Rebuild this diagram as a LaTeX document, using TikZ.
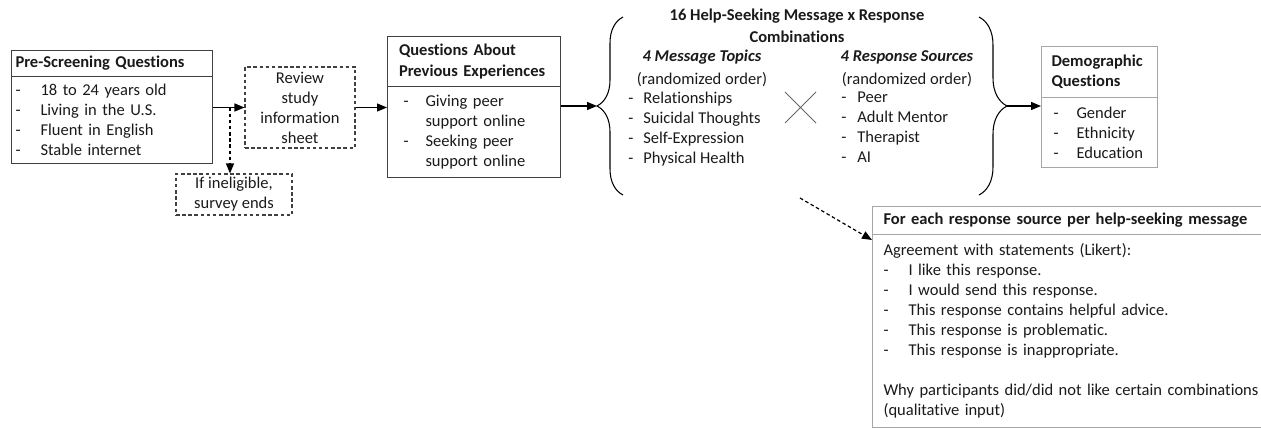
\documentclass[tikz,border=0pt]{standalone}
\usepackage{fontspec}
\setmainfont{Carlito}[Ligatures=NoCommon]
\usetikzlibrary{arrows.meta}
\usetikzlibrary{decorations.pathreplacing}
\definecolor{boxdark}{HTML}{404040}
\definecolor{boxlight}{HTML}{A6A6A6}
\definecolor{inktext}{HTML}{1A1A1A}
\newcommand{\dashitem}[2][0.5cm]{\makebox[#1][l]{-}#2}
\AtBeginDocument{\fontsize{9.4}{11.4}\selectfont}

\tikzset{
  listbox/.style={draw=boxdark, line width=0.6pt, anchor=north west, inner ysep=0pt, align=left, text=inktext},
  headbox/.style={listbox, font=\bfseries},
  dashbox/.style={draw=boxdark, line width=0.6pt, dash pattern=on 2pt off 1.5pt, align=center, inner sep=0pt, text=inktext},
  arr/.style={line width=0.7pt, -{Triangle[length=0.2cm, width=0.16cm]}},
  dasharr/.style={arr, dash pattern=on 2pt off 1.5pt}
}

\begin{document}
\begin{tikzpicture}[x=0.02cm, y=-0.02cm]
   \useasboundingbox (0,0) rectangle (1261,428);
   % left column
   \node[headbox, text width=3.86cm, inner xsep=0.08cm, minimum height=0.52cm] (prehead) at (11,50) {Pre-Screening Questions};
   \node[listbox, text width=3.86cm, inner xsep=0.08cm, minimum height=1.74cm] (prebody) at (11,76)
      {\dashitem{18 to 24 years old}\\ \dashitem{Living in the U.S.}\\ \dashitem{Fluent in English}\\ \dashitem{Stable internet}};
   \node[dashbox, minimum width=2.2cm, minimum height=1.62cm] (review) at (300,107.5) {Review\\study\\information\\sheet};
   \node[dashbox, minimum width=2.32cm, minimum height=0.82cm] (inelig) at (234,194.5) {If ineligible,\\survey ends};
   \node[headbox, text width=3.0cm, inner xsep=0.23cm, minimum height=1.0cm] (quehead) at (387,36) {Questions About\\Previous Experiences};
   \node[listbox, text width=2.82cm, inner xsep=0.32cm, minimum height=1.82cm] (quebody) at (387,86)
      {\dashitem[0.44cm]{Giving peer}\\ \hspace*{0.44cm}support online\\ \dashitem[0.44cm]{Seeking peer}\\ \hspace*{0.44cm}support online};

   % combinations
   \node[font=\bfseries, align=center, text=inktext] (combtitle) at (797,26) {16 Help-Seeking Message x Response\\[1pt]Combinations};
   \node[align=center, text=inktext, inner sep=0pt] (msghead) at (702,68.5) {\textbf{\textit{4 Message Topics}}\\[1.7pt](randomized order)};
   \node[align=center, text=inktext, inner sep=0pt] (srchead) at (907,68.5) {\textbf{\textit{4 Response Sources}}\\[1.7pt](randomized order)};
   \node[align=left, text=inktext, inner sep=0pt, anchor=west] (msglist) at (628,129)
      {\dashitem[0.3cm]{Relationships}\\ \dashitem[0.3cm]{Suicidal Thoughts}\\ \dashitem[0.3cm]{Self-Expression}\\ \dashitem[0.3cm]{Physical Health}};
   \node[align=left, text=inktext, inner sep=0pt, anchor=west] (srclist) at (841,127)
      {\dashitem[0.32cm]{Peer}\\ \dashitem[0.32cm]{Adult Mentor}\\ \dashitem[0.32cm]{Therapist}\\ \dashitem[0.32cm]{AI}};
   \draw[boxdark!80, line width=0.5pt] (785,92) -- (816,123) (785,123) -- (816,92);
   \draw[line width=0.6pt, decorate, decoration={brace, amplitude=0.52cm}] (623,195) -- (623,17);
   \draw[line width=0.6pt, decorate, decoration={brace, amplitude=0.56cm}] (979,17) -- (979,195);
   \coordinate (lbtip) at (597,106);
   \coordinate (rbtip) at (1007,106);

   % right column
   \node[headbox, draw=boxlight, text width=1.92cm, inner xsep=0.2cm, minimum height=1.02cm] (demhead) at (1041,46) {Demographic\\Questions};
   \node[listbox, draw=boxlight, text width=1.84cm, inner xsep=0.24cm, minimum height=1.4cm] (dembody) at (1041,97)
      {\dashitem[0.46cm]{Gender}\\ \dashitem[0.46cm]{Ethnicity}\\ \dashitem[0.46cm]{Education}};
   \node[headbox, draw=boxlight, text width=7.62cm, inner xsep=0.22cm, minimum height=0.56cm] (reshead) at (872,206) {For each response source per help-seeking message};
   \node[listbox, draw=boxlight, text width=7.62cm, inner xsep=0.22cm, minimum height=3.86cm] (resbody) at (872,234)
      {Agreement with statements (Likert):\\
       \dashitem{I like this response.}\\
       \dashitem{I would send this response.}\\
       \dashitem{This response contains helpful advice.}\\
       \dashitem{This response is problematic.}\\
       \dashitem{This response is inappropriate.}\\[11.4pt]
       Why participants did/did not like certain combinations\\
       (qualitative input)};

   % connectors
   \coordinate (split) at (230,107.5);
   \coordinate (fromx) at (800,198);
   \draw[arr] (prebody.east |- review) -- (review);
   \draw[dasharr] (split) -- (split |- inelig.north);
   \draw[arr] (review) -- (review -| quebody.west);
   \draw[arr] (quebody.east |- lbtip) -- (lbtip);
   \draw[arr] (rbtip) -- (rbtip -| dembody.west);
   \draw[dasharr] (fromx) -- ([yshift=-0.12cm]resbody.north west);
\end{tikzpicture}
\end{document}
